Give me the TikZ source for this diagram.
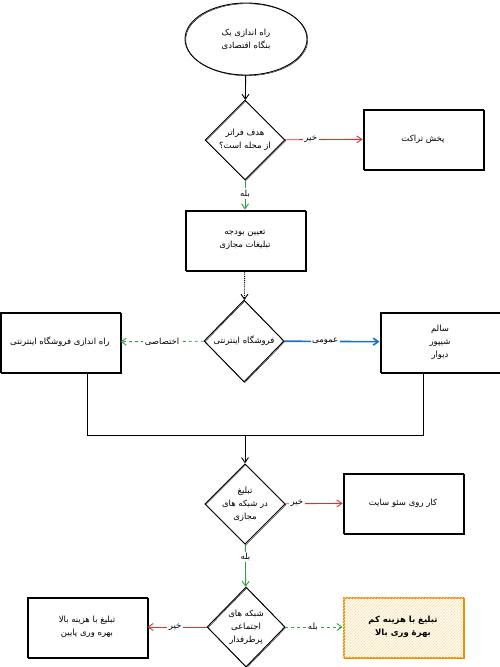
\documentclass[tikz,border=0pt]{standalone}
\usepackage{fontspec}
\usetikzlibrary{shapes.geometric,arrows.meta,patterns}
\TeXXeTstate=1
\newfontfamily\persianfont[Script=Arabic]{DejaVu Sans}
\newcommand{\fa}[1]{\beginR #1\endR}
\definecolor{exred}{HTML}{E03131}
\definecolor{exgreen}{HTML}{2F9E44}
\definecolor{exblue}{HTML}{1971C2}
\definecolor{exorange}{HTML}{F08C00}
\tikzset{
  base/.style={draw=black, line width=0.9pt, font=\persianfont\fontsize{8.5}{13}\selectfont, align=center, inner sep=0pt,
    postaction={draw, line width=0.4pt, transform canvas={shift={(0.8pt,-0.7pt)}}}},
  boxnode/.style={base, rectangle, minimum width=120pt, minimum height=60pt},
  decnode/.style={base, diamond, minimum width=80pt, minimum height=80pt},
  startnode/.style={base, ellipse, minimum width=122pt, minimum height=72pt},
  lbl/.style={font=\persianfont\fontsize{8.5}{10}\selectfont, fill=white, inner sep=1.5pt, text=black},
  arr/.style={line width=0.9pt, -{Straight Barb[length=5pt,width=7pt]}},
}
\begin{document}
\begin{tikzpicture}[x=1pt,y=-1pt]
\useasboundingbox (0,0) rectangle (500,667);
\node[startnode] (start) at (246,39) {\fa{راه اندازی یک}\\\fa{بنگاه اقتصادی}};
\node[decnode] (d1) at (245,140) {\fa{هدف فراتر}\\\fa{از محله است؟}};
\node[boxnode] (b1) at (423,139) {\fa{پخش تراکت}};
\node[boxnode] (b2) at (245,240) {\fa{تعیین بودجه}\\\fa{تبلیغات مجازی}};
\node[decnode, minimum height=82pt] (d3) at (244,341) {\fa{فروشگاه اینترنتی}};
\node[boxnode] (lb) at (60,342) {\fa{راه اندازی فروشگاه اینترنتی}};
\node[boxnode] (rb) at (440,342) {\fa{سالم}\\\fa{شیپور}\\\fa{دیوار}};
\node[decnode, minimum height=78pt] (d4) at (245,504) {\fa{تبلیغ}\\\fa{در شبکه های}\\\fa{مجازی}};
\node[boxnode] (b4) at (403,503) {\fa{کار روی سئو سایت}};
\node[decnode, minimum width=78pt] (d5) at (246,627) {\fa{شبکه های}\\\fa{اجتماعی}\\\fa{پرطرفدار}};
\node[boxnode] (lb5) at (87,627) {\fa{تبلیغ با هزینه بالا}\\\fa{بهره وری پایین}};
\node[boxnode, draw=exorange, fill=yellow!5, postaction={pattern=north east lines, pattern color=exorange!30}, font=\persianfont\bfseries\fontsize{8.5}{13}\selectfont] (rb5) at (403,627) {\fa{تبلیغ با هزینه کم}\\\fa{بهرهٔ وری بالا}};
% connectors
\draw[arr] (start) -- (d1);
\draw[arr, exred] (d1) -- node[lbl, pos=0.33] (l1) {\fa{خیر}} (b1);
\draw[arr, exgreen] (d1) -- node[lbl, pos=0.45] (l2) {\fa{بله}} (b2);
\draw[arr, densely dotted] (b2) -- (d3);
\draw[arr, exgreen, dashed] (d3) -- node[lbl, pos=0.5] (l3) {\fa{اختصاصی}} (lb);
\draw[arr, exblue, line width=1.6pt] (d3) -- node[lbl, pos=0.43] (l4) {\fa{عمومی}} (rb);
\coordinate (ml) at (87,435);
\coordinate (mr) at (423,435);
\coordinate (mc) at (245,435);
\draw[line width=0.9pt] (lb.south -| ml) -- (ml) -- (mr) -- (rb.south -| mr);
\draw[arr] (mc) -- (d4);
\draw[arr, exred] (d4) -- node[lbl, pos=0.2] (l5) {\fa{خیر}} (b4);
\draw[arr, exgreen] (d4) -- node[lbl, pos=0.3] (l6) {\fa{بله}} (d5);
\draw[arr, exred] (d5) -- node[lbl, pos=0.53] (l7) {\fa{خیر}} (lb5);
\draw[arr, exgreen, dashed] (d5) -- node[lbl, pos=0.48] (l8) {\fa{بله}} (rb5);
\end{tikzpicture}
\end{document}
